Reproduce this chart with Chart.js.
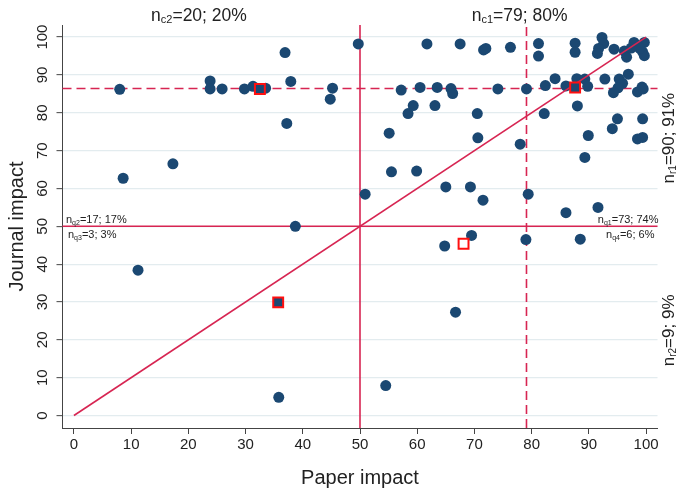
<!DOCTYPE html>
<html><head><meta charset="utf-8">
<script src="https://cdn.jsdelivr.net/npm/chart.js@4.4.1/dist/chart.umd.min.js"></script>
<style>html,body{margin:0;padding:0;background:#fff}#wrap{width:676px;height:493px}</style>
</head><body><div id="wrap"><canvas id="c" width="676" height="493"></canvas></div>
<script>
// ---- data ----
const paperImpact = [
 8.0, 8.6, 11.2, 17.3, 23.8, 23.8, 25.9, 29.8, 31.3, 33.5, 36.9, 37.9, 37.2, 45.2, 44.8, 49.7, 38.7, 35.8,
 54.5, 66.7, 64.8, 69.5, 79.0, 88.5,
 61.7, 67.5, 71.6, 72.0, 76.3, 57.2, 60.5, 63.5, 65.9, 66.2, 74.1, 79.1, 59.3, 58.4, 63.1, 70.5, 55.1, 70.6, 78.0,
 55.5, 59.9, 50.9, 65.0, 69.3, 71.5, 79.4,
 81.2, 81.2, 87.6, 87.6, 92.3, 92.6, 91.7, 91.5, 94.4, 96.2, 96.6, 97.9, 99.7, 99.4, 99.7, 98.9, 97.4,
 82.4, 84.1, 86.0, 87.9, 89.3, 89.8, 92.8, 95.3, 96.9, 95.9, 95.1, 94.3, 99.3, 98.5, 99.5,
 88.0, 82.2, 95.0, 99.4, 94.1, 89.9, 98.5, 99.4, 89.3, 86.0, 91.6
];
const journalImpact = [
 86.2, 62.7, 38.4, 66.5, 88.4, 86.3, 86.3, 86.3, 87.0, 86.5, 95.9, 88.3, 77.2, 86.5, 83.6, 98.2, 50.0, 4.8,
 7.9, 27.3, 44.8, 47.6, 46.5, 46.6,
 98.2, 98.2, 96.6, 97.0, 97.3, 86.0, 86.7, 86.7, 86.4, 85.1, 86.3, 86.3, 81.9, 79.8, 81.9, 79.8, 74.6, 73.4, 71.7,
 64.4, 64.6, 58.5, 60.4, 60.4, 56.9, 58.5,
 98.3, 95.0, 98.4, 96.0, 99.9, 98.3, 97.0, 95.7, 96.8, 96.3, 94.7, 98.6, 98.6, 96.1, 95.1, 97.0, 97.1,
 87.2, 89.0, 87.1, 89.0, 88.9, 87.0, 88.9, 88.9, 90.2, 87.8, 86.6, 85.3, 86.8, 85.5, 86.3,
 81.8, 79.8, 78.4, 78.4, 75.8, 74.0, 73.1, 73.5, 68.2, 53.6, 55.0
];
const highlightX = [32.5, 87.6, 35.7, 68.1];
const highlightY = [86.3, 86.7, 29.9, 45.4];
const highlightFilled = [true, true, true, false];
const xTicks = [0, 10, 20, 30, 40, 50, 60, 70, 80, 90, 100];
const yTicks = [0, 10, 20, 30, 40, 50, 60, 70, 80, 90, 100];
const medianLines = [50, 50];      // x, y (solid)
const cutLines = [79.1, 86.4];     // x, y (dashed)
const diagonal = [0, 100];
const colLabels = [['c2', '=20; 20%'], ['c1', '=79; 80%']];
const rowLabels = [['r1', '=90; 91%'], ['r2', '=9; 9%']];
const quadLabels = [['q2', '=17; 17%'], ['q3', '=3; 3%'], ['q1', '=73; 74%'], ['q4', '=6; 6%']];
const xTitle = 'Paper impact';
const yTitle = 'Journal impact';

// ---- styles ----
const FONT = 'Liberation Sans, Arial, sans-serif';
const NAVY = '#1B4872';
const LINE = '#D72552';
const XMIN = -2, XMAX = 102, YMIN = -3.3, YMAX = 103.2;

const dots = paperImpact.map((x, i) => ({x, y: journalImpact[i]}));
const squares = highlightX.map((x, i) => ({x, y: highlightY[i]}));

function drawSubText(ctx, sub, rest, x, y, size, align) {
  const subSize = Math.round(size * 0.6);
  ctx.font = size + 'px ' + FONT;
  const w1 = ctx.measureText('n').width;
  const w3 = ctx.measureText(rest).width;
  ctx.font = subSize + 'px ' + FONT;
  const w2 = ctx.measureText(sub).width;
  const total = w1 + w2 + w3;
  let sx = x;
  if (align === 'center') sx = x - total / 2;
  else if (align === 'right') sx = x - total;
  ctx.textAlign = 'left';
  ctx.textBaseline = 'alphabetic';
  ctx.font = size + 'px ' + FONT;
  ctx.fillText('n', sx, y);
  ctx.font = subSize + 'px ' + FONT;
  ctx.fillText(sub, sx + w1, y + size * 0.12);
  ctx.font = size + 'px ' + FONT;
  ctx.fillText(rest, sx + w1 + w2, y);
}

const labelPlugin = {
  id: 'labels',
  afterDraw(chart) {
    const {ctx, chartArea: ca, scales: {x, y}} = chart;
    ctx.save();
    ctx.fillStyle = '#222';
    // column labels above the plot
    drawSubText(ctx, colLabels[0][0], colLabels[0][1], x.getPixelForValue(21.85), ca.top - 4, 17.5, 'center');
    drawSubText(ctx, colLabels[1][0], colLabels[1][1], x.getPixelForValue(77.9), ca.top - 4, 17.5, 'center');
    // row labels right of the plot (rotated)
    const rowY = [y.getPixelForValue(73.3), y.getPixelForValue(22.5)];
    rowY.forEach((py, i) => {
      ctx.save();
      ctx.translate(ca.right + 16, py);
      ctx.rotate(-Math.PI / 2);
      drawSubText(ctx, rowLabels[i][0], rowLabels[i][1], 0, 0, 17, 'center');
      ctx.restore();
    });
    // quadrant labels around the y = 50 line
    const ly = y.getPixelForValue(medianLines[1]);
    drawSubText(ctx, quadLabels[0][0], quadLabels[0][1], ca.left + 3.5, ly - 3, 11, 'left');
    drawSubText(ctx, quadLabels[1][0], quadLabels[1][1], ca.left + 5.5, ly + 12, 11, 'left');
    drawSubText(ctx, quadLabels[2][0], quadLabels[2][1], ca.right + 1, ly - 3, 11, 'right');
    drawSubText(ctx, quadLabels[3][0], quadLabels[3][1], ca.right - 3, ly + 12, 11, 'right');
    ctx.restore();
  }
};

const refLine = (pts, dashed, order) => ({
  type: 'line', data: pts, showLine: true, borderColor: LINE, borderWidth: 1.6,
  borderDash: dashed ? [9, 5] : [], pointRadius: 0, fill: false, order, clip: false
});

new Chart(document.getElementById('c'), {
  type: 'scatter',
  data: {
    datasets: [
      {data: squares, pointStyle: 'rect', pointRadius: 7, borderWidth: 2, borderColor: '#FF1010',
       backgroundColor: highlightFilled.map(f => f ? NAVY : '#FFFFFF'), order: 0},
      refLine([{x: diagonal[0], y: diagonal[0]}, {x: diagonal[1], y: diagonal[1]}], false, 1),
      {data: dots, pointRadius: 5.5, pointBorderWidth: 0, borderWidth: 0, backgroundColor: NAVY, borderColor: NAVY, order: 2},
      refLine([{x: medianLines[0], y: YMIN}, {x: medianLines[0], y: YMAX}], false, 3),
      refLine([{x: XMIN, y: medianLines[1]}, {x: XMAX, y: medianLines[1]}], false, 3),
      refLine([{x: cutLines[0], y: YMIN}, {x: cutLines[0], y: YMAX}], true, 3),
      refLine([{x: XMIN, y: cutLines[1]}, {x: XMAX, y: cutLines[1]}], true, 3)
    ]
  },
  options: {
    responsive: false, animation: false, devicePixelRatio: 1,
    layout: {padding: {left: 0, right: 18.5, top: 25, bottom: 0}},
    plugins: {legend: {display: false}, tooltip: {enabled: false}},
    scales: {
      x: {
        type: 'linear', min: XMIN, max: XMAX,
        afterBuildTicks: s => { s.ticks = xTicks.map(v => ({value: v})); },
        afterFit: s => { s.height = 65; },
        grid: {drawOnChartArea: false, drawTicks: true, tickLength: 6, tickColor: '#444', tickWidth: 1},
        border: {display: true, color: '#444', width: 1},
        ticks: {color: '#222', font: {family: FONT, size: 15}, padding: 2, maxRotation: 0, minRotation: 0, autoSkip: false},
        title: {display: true, text: xTitle, color: '#222', font: {family: FONT, size: 20}, padding: {top: 0, bottom: 3}}
      },
      y: {
        type: 'linear', min: YMIN, max: YMAX,
        afterBuildTicks: s => { s.ticks = yTicks.map(v => ({value: v})); },
        afterFit: s => { s.width = 62.5; },
        grid: {color: '#E3ECEF', lineWidth: 1.3, drawTicks: true, tickLength: 6, tickColor: '#444', tickWidth: 1},
        border: {display: true, color: '#444', width: 1},
        ticks: {color: '#222', font: {family: FONT, size: 15}, padding: 1, minRotation: 90, maxRotation: 90, crossAlign: 'center', autoSkip: false},
        title: {display: true, text: yTitle, color: '#222', font: {family: FONT, size: 20}, padding: {top: 5, bottom: 0}}
      }
    }
  },
  plugins: [labelPlugin]
});
</script></body></html>
